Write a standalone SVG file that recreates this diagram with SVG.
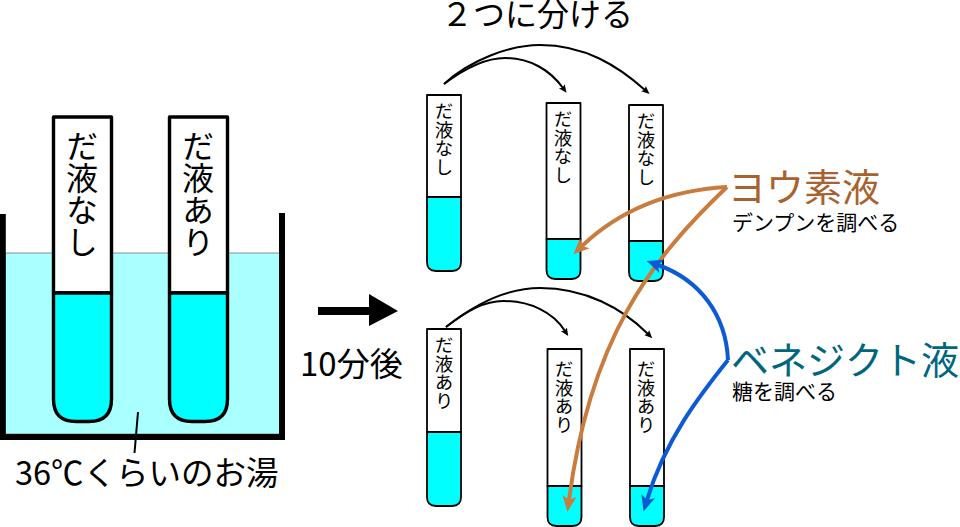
<svg xmlns="http://www.w3.org/2000/svg" width="960" height="527" viewBox="0 0 960 527">
<style>
text{font-family:"Noto Sans CJK JP","Noto Sans",sans-serif;fill:#000}
.v{writing-mode:vertical-rl;text-anchor:start}
.vb{font-size:32px}
.vs{font-size:18.5px}
.glass{fill:#fff;stroke:#000;stroke-linejoin:round}
.liq{fill:#0ff;stroke:#000;stroke-linejoin:round}
.b{stroke-width:3.4}
.s{stroke-width:1.8}
.arc{fill:none;stroke:#000;stroke-width:2;marker-end:url(#ah)}
.or{fill:none;stroke:#c87d3f;stroke-width:4;marker-end:url(#ao)}
.bl{fill:none;stroke:#0c5ad6;stroke-width:4;marker-end:url(#ab)}
</style>
<defs>
<marker id="ah" markerUnits="userSpaceOnUse" markerWidth="12" markerHeight="10" refX="2" refY="5" orient="auto"><path d="M0,1.500 L8,5 L0,8.500 L1.500,5Z" fill="#000"/></marker>
<marker id="ao" markerUnits="userSpaceOnUse" markerWidth="20" markerHeight="20" refX="4" refY="10" orient="auto"><path d="M0,3 L16,10 L0,17 L4,10Z" fill="#c87d3f"/></marker>
<marker id="ab" markerUnits="userSpaceOnUse" markerWidth="20" markerHeight="20" refX="4" refY="10" orient="auto"><path d="M0,3 L16,10 L0,17 L4,10Z" fill="#0c5ad6"/></marker>
</defs>

<g id="beaker">
<rect x="5" y="253" width="275" height="181" fill="#aff" stroke="#777" stroke-width="0.8"/>
<path d="M2.800,214 V437 H282 V213" fill="none" stroke="#000" stroke-width="6"/>
</g>

<g id="tube-big-none">
<path class="glass b" d="M53.500,117 H111.500 V293 H53.500Z"/>
<path class="liq b" d="M53.500,293 H111.500 V399 Q111.500,421.500 89,421.500 H76 Q53.500,421.500 53.500,399Z"/>
<text class="v vb" x="82" y="130">だ液なし</text>
</g>
<g id="tube-big-saliva">
<path class="glass b" d="M169.500,117 H227.500 V293 H169.500Z"/>
<path class="liq b" d="M169.500,293 H227.500 V399 Q227.500,421.500 205,421.500 H192 Q169.500,421.500 169.500,399Z"/>
<text class="v vb" x="198" y="130">だ液あり</text>
</g>
<g id="hot-water-label">
<path d="M138,412 L134.500,453" fill="none" stroke="#000" stroke-width="2"/>
<text x="15" y="485" font-size="32.500">36℃くらいのお湯</text>
</g>

<g id="main-arrow">
<path d="M318,307 H369 V294 L398,311 L369,326 V315 H318Z" fill="#000"/>
<text x="300" y="376" font-size="33">10分後</text>
</g>
<g id="title"><text x="441" y="26" font-size="32">２つに分ける</text></g>

<g id="tube-a">
<path class="glass s" d="M427,95 H461 V197 H427Z"/>
<path class="liq s" d="M427,197 H461 V262 Q461,271 452,271 H436 Q427,271 427,262Z"/>
<text class="v vs" x="444" y="102">だ液なし</text>
</g>
<g id="tube-b">
<path class="glass s" d="M546.500,103 H580.500 V239 H546.500Z"/>
<path class="liq s" d="M546.500,239 H580.500 V270 Q580.500,279 571.500,279 H555.500 Q546.500,279 546.500,270Z"/>
<text class="v vs" x="563" y="110">だ液なし</text>
</g>
<g id="tube-c">
<path class="glass s" d="M629,105 H663 V241 H629Z"/>
<path class="liq s" d="M629,241 H663 V272 Q663,281 654,281 H638 Q629,281 629,272Z"/>
<text class="v vs" x="646" y="112">だ液なし</text>
</g>
<g id="tube-d">
<path class="glass s" d="M427,329 H461 V432 H427Z"/>
<path class="liq s" d="M427,432 H461 V497 Q461,506 452,506 H436 Q427,506 427,497Z"/>
<text class="v vs" x="444" y="336">だ液あり</text>
</g>
<g id="tube-e">
<path class="glass s" d="M547.500,349 H581.500 V486 H547.500Z"/>
<path class="liq s" d="M547.500,486 H581.500 V517 Q581.500,526 572.500,526 H556.500 Q547.500,526 547.500,517Z"/>
<text class="v vs" x="564" y="360">だ液あり</text>
</g>
<g id="tube-f">
<path class="glass s" d="M630,349 H664 V486 H630Z"/>
<path class="liq s" d="M630,486 H664 V517 Q664,526 655,526 H639 Q630,526 630,517Z"/>
<text class="v vs" x="646" y="360">だ液あり</text>
</g>

<g id="connectors">
<path class="arc" d="M444,84 C468,66 488,58 505,58 C530,58 550,70 563,88"/>
<path class="arc" d="M444,84 C470,60 510,45 540,45 C585,45 618,66 645,90"/>
<path class="arc" d="M446,327 C468,310 485,301 503,301 C530,301 553,312 565,331"/>
<path class="arc" d="M446,327 C480,300 510,288 540,288 C585,288 622,308 648,334"/>
<path class="or" d="M727,187 C675,190 625,205 582,246"/>
<path class="or" d="M727,187 C650,260 590,340 569,500"/>
<path class="bl" d="M728,360 C726,315 700,280 658,265"/>
<path class="bl" d="M728,360 C700,395 665,440 647,500"/>
</g>

<g id="iodine-label">
<text x="728" y="201" font-size="38" style="fill:#a8622f">ヨウ素液</text>
<text x="732" y="230" font-size="21">デンプンを調べる</text>
</g>
<g id="benedict-label">
<text x="731" y="374" font-size="38" style="fill:#006680">ベネジクト液</text>
<text x="732" y="399" font-size="21">糖を調べる</text>
</g>
</svg>
